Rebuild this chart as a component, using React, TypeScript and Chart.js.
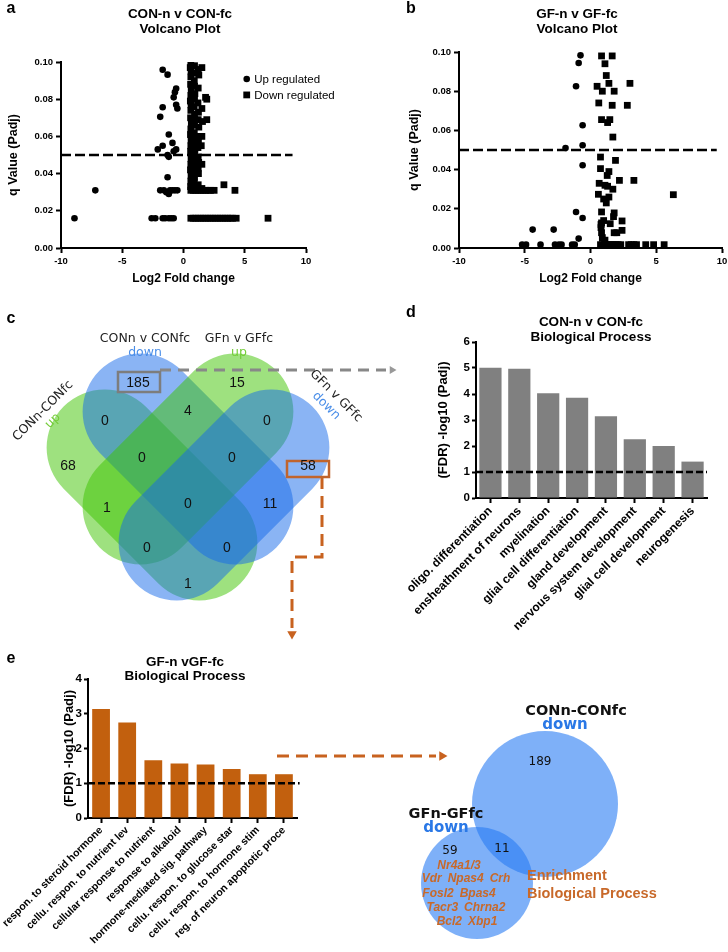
import React, { useEffect, useRef } from 'react';
import { Chart, registerables } from 'chart.js';

Chart.register(...registerables);

const SANS = '"Liberation Sans", Arial, Helvetica, sans-serif';
const VERD = '"DejaVu Sans", Verdana, sans-serif';
Chart.defaults.font.family = SANS;

type Pt = [number, number];

// ---------------- DATA ----------------
// Panel a: CON-n v CON-fc volcano (Log2 fold change, q value)
const conUpRegulated: Pt[] = [
  [-8.9, 0.016], [-7.2, 0.031],
  [-2.6, 0.016], [-2.3, 0.016], [-1.7, 0.016], [-1.5, 0.016], [-1.2, 0.016], [-1.0, 0.016], [-0.8, 0.016],
  [-1.9, 0.031], [-1.6, 0.031], [-1.4, 0.030], [-1.2, 0.029], [-1.1, 0.031], [-0.9, 0.031], [-0.7, 0.031], [-0.5, 0.031],
  [-1.3, 0.038],
  [-2.1, 0.053], [-1.7, 0.055], [-1.3, 0.050], [-1.2, 0.049], [-0.9, 0.0565], [-0.6, 0.053], [-0.8, 0.052], [-1.2, 0.061],
  [-1.9, 0.0705], [-1.7, 0.0757], [-1.7, 0.0958], [-1.3, 0.0932],
  [-0.6, 0.0857], [-0.7, 0.0838], [-0.8, 0.081], [-0.6, 0.077], [-0.5, 0.075],
];
const conDownRegulated: Pt[] = [
  [0.6, 0.099], [0.55, 0.097], [0.62, 0.095], [0.6, 0.092], [0.58, 0.088], [0.63, 0.085], [0.6, 0.082], [0.56, 0.079],
  [0.62, 0.077], [0.6, 0.074], [0.58, 0.070], [0.64, 0.067], [0.6, 0.064], [0.57, 0.061], [0.62, 0.058], [0.6, 0.055],
  [0.58, 0.052], [0.62, 0.048], [0.6, 0.045], [0.57, 0.042], [0.62, 0.039], [0.6, 0.036], [0.58, 0.033],
  [0.9, 0.098], [0.92, 0.094], [0.88, 0.090], [0.9, 0.087], [0.93, 0.083], [0.9, 0.080], [0.87, 0.076], [0.9, 0.072],
  [0.92, 0.069], [0.9, 0.066], [0.88, 0.062], [0.91, 0.059], [0.9, 0.056], [0.93, 0.053], [0.9, 0.050], [0.88, 0.047],
  [0.9, 0.044], [0.92, 0.041], [0.9, 0.038], [0.88, 0.035], [0.9, 0.032],
  [1.2, 0.096], [1.25, 0.093], [1.2, 0.086], [1.18, 0.078], [1.22, 0.073], [1.2, 0.069], [1.25, 0.065], [1.2, 0.060],
  [1.22, 0.057], [1.18, 0.054], [1.2, 0.049], [1.24, 0.046], [1.2, 0.043], [1.22, 0.040], [1.2, 0.034],
  [1.5, 0.097], [1.5, 0.075], [1.55, 0.068], [1.5, 0.060], [1.45, 0.055], [1.5, 0.045],
  [1.9, 0.080], [1.8, 0.081], [1.9, 0.069],
  [0.6, 0.031], [0.8, 0.031], [1.0, 0.031], [1.2, 0.031], [1.4, 0.031], [1.6, 0.031], [1.8, 0.031], [2.0, 0.031],
  [2.2, 0.031], [2.5, 0.031], [0.7, 0.033], [1.1, 0.033], [1.5, 0.032], [3.3, 0.034], [4.2, 0.031],
  [0.6, 0.016], [0.8, 0.016], [1.0, 0.016], [1.2, 0.016], [1.4, 0.016], [1.6, 0.016], [1.8, 0.016], [2.0, 0.016],
  [2.2, 0.016], [2.4, 0.016], [2.6, 0.016], [2.8, 0.016], [3.0, 0.016], [3.2, 0.016], [3.4, 0.016], [3.6, 0.016],
  [3.8, 0.016], [4.0, 0.016], [4.3, 0.016], [6.9, 0.016],
];

// Panel b: GF-n v GF-fc volcano
const gfUpRegulated: Pt[] = [
  [-0.76, 0.0983], [-0.9, 0.0944], [-1.1, 0.0825], [-0.6, 0.0626], [-0.6, 0.0524], [-1.9, 0.051], [-0.6, 0.0422],
  [-1.1, 0.0184], [-0.6, 0.0153], [-0.9, 0.0048], [-4.4, 0.0094], [-2.8, 0.0094],
  [-5.2, 0.0017], [-4.9, 0.0017], [-3.8, 0.0017], [-2.7, 0.0017], [-2.4, 0.0017], [-2.2, 0.0017], [-1.4, 0.0017], [-1.2, 0.0017],
];
const gfDownRegulated: Pt[] = [
  [0.84, 0.098], [1.65, 0.098], [1.1, 0.094], [1.2, 0.088], [0.5, 0.0825], [1.4, 0.084], [3.0, 0.084], [0.9, 0.080],
  [1.8, 0.080], [0.63, 0.074], [1.65, 0.0728], [2.8, 0.0728], [0.84, 0.0655], [1.47, 0.0655], [1.3, 0.064], [1.7, 0.0566],
  [0.76, 0.0464], [1.9, 0.0447], [0.76, 0.0405], [1.27, 0.037], [1.4, 0.039], [2.2, 0.0345], [3.3, 0.0345], [0.66, 0.033],
  [1.1, 0.032], [1.3, 0.0315], [1.7, 0.030], [6.3, 0.0272], [0.6, 0.0274], [1.0, 0.025], [1.4, 0.026], [1.2, 0.023],
  [0.84, 0.0184], [1.8, 0.0179], [1.75, 0.016], [0.84, 0.0128], [1.5, 0.0124], [2.4, 0.0138], [1.0, 0.014], [0.8, 0.0104],
  [2.4, 0.009], [1.8, 0.0078], [2.0, 0.0078], [0.84, 0.0078], [0.9, 0.0053], [1.1, 0.004], [0.8, 0.012],
  [0.76, 0.0017], [0.9, 0.0017], [1.05, 0.0017], [1.2, 0.0017], [1.35, 0.0017], [1.5, 0.0017], [1.65, 0.0017], [1.8, 0.0017],
  [1.95, 0.0017], [2.1, 0.0017], [2.3, 0.0017], [2.9, 0.0017], [3.1, 0.0017], [3.3, 0.0017], [3.5, 0.0017], [4.2, 0.0017],
  [4.8, 0.0017], [5.6, 0.0017],
];
const qThreshold = 0.05;

// Panel d
const conBpLabels = [
  'oligo. differentiation', 'ensheathment of neurons', 'myelination', 'glial cell differentiation',
  'gland development', 'nervous system development', 'glial cell development', 'neurogenesis',
];
const conBpValues = [5.01, 4.97, 4.03, 3.86, 3.14, 2.26, 2.0, 1.4];

// Panel e
const gfBpLabels = [
  'respon. to steroid hormone', 'cellu. respon. to nutrient lev', 'cellular response to nutrient', 'response to alkaloid',
  'hormone-mediated sig. pathway', 'cellu. respon. to glucose star', 'cellu. respon. to hormone stim', 'reg. of neuron apoptotic proce',
];
const gfBpValues = [3.14, 2.75, 1.66, 1.57, 1.54, 1.41, 1.26, 1.26];
const fdrThreshold = 1;

// Panel c: 4-set Venn
const venn4Sets = ['CONn-CONfc', 'CONn v CONfc', 'GFn v GFfc', 'GFn v GFfc'];
const venn4Dirs = ['up', 'down', 'up', 'down'];
const venn4Regions = ['A', 'B', 'C', 'D', 'AB', 'BC', 'CD', 'ABC', 'BCD', 'AC', 'ABCD', 'BD', 'ACD', 'ABD', 'AD'];
const venn4Counts = [68, 185, 15, 58, 0, 4, 0, 0, 0, 1, 0, 11, 0, 0, 1];

// Bottom-right 2-set Venn
const venn2Sets = ['CONn-CONfc', 'GFn-GFfc'];
const venn2Dirs = ['down', 'down'];
const venn2Counts = [189, 59, 11]; // CON only, GF only, both
const venn2Genes = ['Nr4a1/3', 'Vdr  Npas4  Crh', 'Fosl2  Bpas4', 'Tacr3  Chrna2', 'Bcl2  Xbp1'];
const enrichmentNote = ['Enrichment', 'Biological Process'];

// ---------------- LAYOUT / STYLE ----------------
const GREEN = 'rgba(62,196,0,0.5)';
const BLUE = 'rgba(22,105,233,0.5)';
const V4_SHAPES = [
  { cx: 152, cy: 495, rot: 45, fill: GREEN },
  { cx: 188, cy: 459, rot: 45, fill: BLUE },
  { cx: 188, cy: 459, rot: -45, fill: GREEN },
  { cx: 224, cy: 495, rot: -45, fill: BLUE },
];
const V4_HALF = 125;
const V4_R = 58;
const V4_POS: Record<string, [number, number]> = {
  A: [68, 466], B: [138, 383], C: [237, 383], D: [308, 466], AB: [105, 421], BC: [188, 411], CD: [267, 421],
  ABC: [142, 458], BCD: [232, 458], AC: [107, 508], ABCD: [188, 504], BD: [270, 504], ACD: [147, 548], ABD: [227, 548], AD: [188, 584],
};
const V4_SET_POS = [
  { x: 43, y: 411, rot: -45 }, { x: 145, y: 339, rot: 0 }, { x: 239, y: 339, rot: 0 }, { x: 336, y: 396, rot: 45 },
];
const V2_CIRCLES = [{ x: 545, y: 804, r: 73 }, { x: 477, y: 883, r: 56 }];
const V2_SET_POS = [{ x: 576, y: 711 }, { x: 446, y: 814 }];
const V2_COUNT_POS = [[540, 762], [450, 851], [502, 849]];
const V2_GENE_POS = [[459, 866], [466, 879], [459, 894], [466, 908], [467, 922]];

// ---------------- PLUGINS ----------------
const thresholdPlugin = {
  id: 'threshold',
  afterDatasetsDraw(chart: any, _a: any, opts: any) {
    if (!opts || opts.value === undefined) return;
    const { ctx, chartArea } = chart;
    const xs = chart.scales.x;
    const ys = chart.scales.y;
    const y = ys.getPixelForValue(opts.value);
    const x1 = opts.from !== undefined ? xs.getPixelForValue(opts.from) : chartArea.left;
    const x2 = opts.to !== undefined ? xs.getPixelForValue(opts.to) : chartArea.right;
    ctx.save();
    ctx.beginPath();
    ctx.setLineDash(opts.dash || [8, 4]);
    ctx.lineWidth = opts.width || 2;
    ctx.strokeStyle = opts.color || '#000';
    ctx.moveTo(x1, y);
    ctx.lineTo(x2, y);
    ctx.stroke();
    ctx.restore();
  },
};

const insideLegendPlugin = {
  id: 'insideLegend',
  afterDraw(chart: any, _a: any, opts: any) {
    if (!opts || !opts.display) return;
    const { ctx } = chart;
    const x0 = chart.scales.x.getPixelForValue(opts.x);
    let y = chart.scales.y.getPixelForValue(opts.y);
    ctx.save();
    ctx.font = `${opts.fontSize}px ${SANS}`;
    ctx.textBaseline = 'middle';
    ctx.textAlign = 'left';
    ctx.fillStyle = '#000';
    chart.data.datasets.forEach((ds: any) => {
      const r = ds.pointRadius;
      ctx.beginPath();
      if (ds.pointStyle === 'rect') {
        const s = r * Math.SQRT1_2;
        ctx.rect(x0 - s, y - s, 2 * s, 2 * s);
      } else {
        ctx.arc(x0, y, r, 0, Math.PI * 2);
      }
      ctx.fill();
      ctx.fillText(ds.label, x0 + opts.gap, y + 0.5);
      y += opts.lineGap;
    });
    ctx.restore();
  },
};

function drawText(ctx: CanvasRenderingContext2D, text: string, x: number, y: number, font: string, color: string, align: CanvasTextAlign = 'center', rot = 0) {
  ctx.save();
  ctx.translate(x, y);
  if (rot) ctx.rotate((rot * Math.PI) / 180);
  ctx.font = font;
  ctx.fillStyle = color;
  ctx.textAlign = align;
  ctx.textBaseline = 'middle';
  ctx.fillText(text, 0, 0);
  ctx.restore();
}

const diagramPlugin = {
  id: 'diagram',
  beforeDatasetsDraw(chart: any) {
    const { ctx } = chart;
    const xs = chart.scales.x;
    const ys = chart.scales.y;
    const k = xs.getPixelForValue(1) - xs.getPixelForValue(0);
    V4_SHAPES.forEach((s) => {
      ctx.save();
      ctx.translate(xs.getPixelForValue(s.cx), ys.getPixelForValue(s.cy));
      ctx.rotate((s.rot * Math.PI) / 180);
      const h = (V4_HALF - V4_R) * k;
      const r = V4_R * k;
      ctx.beginPath();
      ctx.moveTo(-h, -r);
      ctx.lineTo(h, -r);
      ctx.arc(h, 0, r, -Math.PI / 2, Math.PI / 2);
      ctx.lineTo(-h, r);
      ctx.arc(-h, 0, r, Math.PI / 2, Math.PI * 1.5);
      ctx.closePath();
      ctx.fillStyle = s.fill;
      ctx.fill();
      ctx.restore();
    });
  },
  afterDatasetsDraw(chart: any) {
    const { ctx } = chart;
    const xs = chart.scales.x;
    const ys = chart.scales.y;
    const px = (v: number) => xs.getPixelForValue(v);
    const py = (v: number) => ys.getPixelForValue(v);

    // highlight boxes
    ctx.save();
    ctx.lineWidth = 2.5;
    ctx.strokeStyle = '#7d7d7d';
    ctx.strokeRect(px(118), py(372), px(160) - px(118), py(392) - py(372));
    ctx.strokeStyle = '#c0642c';
    ctx.strokeRect(px(287), py(461), px(329) - px(287), py(477) - py(461));
    ctx.restore();

    // 4-set venn counts
    venn4Regions.forEach((id, i) => {
      const [x, y] = V4_POS[id];
      drawText(ctx, String(venn4Counts[i]), px(x), py(y), `14px ${SANS}`, '#111');
    });
    // 4-set venn set labels
    venn4Sets.forEach((name, i) => {
      const p = V4_SET_POS[i];
      const dirColor = venn4Dirs[i] === 'up' ? '#74cc38' : '#4a8ee8';
      ctx.save();
      ctx.translate(px(p.x), py(p.y));
      ctx.rotate((p.rot * Math.PI) / 180);
      drawText(ctx, name, 0, 0, `12.5px ${VERD}`, '#222');
      drawText(ctx, venn4Dirs[i], 0, 14, `12.5px ${VERD}`, dirColor);
      ctx.restore();
    });

    // 2-set venn labels
    venn2Sets.forEach((name, i) => {
      const p = V2_SET_POS[i];
      drawText(ctx, name, px(p.x), py(p.y), `bold 14.5px ${VERD}`, '#111');
      drawText(ctx, venn2Dirs[i], px(p.x - (i === 0 ? 11 : 0)), py(p.y + 14), `bold 15px ${VERD}`, '#2a78e6');
    });
    venn2Counts.forEach((c, i) => {
      const [x, y] = V2_COUNT_POS[i];
      drawText(ctx, String(c), px(x), py(y), `12px ${VERD}`, '#111');
    });
    venn2Genes.forEach((g, i) => {
      const [x, y] = V2_GENE_POS[i];
      drawText(ctx, g.replace(/  /g, '\u2002'), px(x), py(y), `italic bold 12px ${SANS}`, '#c8692a');
    });
    enrichmentNote.forEach((t, i) => {
      drawText(ctx, t, px(527), py(876 + i * 18), `bold 14.5px ${SANS}`, '#c8692a', 'left');
    });
  },
};

// ---------------- CONFIGS ----------------
const axisBorder = { display: true, color: '#000', width: 2 };
const axisGrid = { display: true, drawOnChartArea: false, drawTicks: true, tickLength: 5, tickWidth: 2, tickColor: '#000', color: '#000', offset: false };

function volcanoConfig(up: Pt[], down: Pt[], p: any): any {
  return {
    type: 'scatter',
    data: {
      datasets: [
        { label: 'Up regulated', data: up.map(([x, y]) => ({ x, y })), pointStyle: 'circle', pointRadius: 3.3, backgroundColor: '#000', borderColor: '#000', borderWidth: 0 },
        { label: 'Down regulated', data: down.map(([x, y]) => ({ x, y })), pointStyle: 'rect', pointRadius: 4.8, backgroundColor: '#000', borderColor: '#000', borderWidth: 0 },
      ],
    },
    options: {
      animation: false,
      responsive: false,
      events: [],
      layout: { padding: { left: p.padL, right: p.padR, top: p.padT, bottom: p.padB }, autoPadding: false },
      plugins: {
        legend: { display: false },
        tooltip: { enabled: false },
        threshold: { value: qThreshold, from: -10, to: p.lineTo, dash: [10, 4], width: 2.5 },
        insideLegend: p.legend,
      },
      scales: {
        x: {
          min: -10, max: 10,
          border: axisBorder, grid: axisGrid,
          ticks: { stepSize: 5, color: '#000', padding: 3, font: { family: SANS, size: 9.5, weight: 'bold' } },
          title: { display: true, text: 'Log2 Fold change', color: '#000', font: { family: SANS, size: 12, weight: 'bold' }, padding: { top: 0, bottom: 2 } },
          afterFit: (s: any) => { s.height = p.xH; s.paddingLeft = 0; s.paddingRight = 0; },
        },
        y: {
          min: 0, max: 0.1,
          border: axisBorder, grid: axisGrid,
          ticks: { stepSize: 0.02, color: '#000', padding: 3, font: { family: SANS, size: 9.5, weight: 'bold' }, callback: (v: any) => Number(v).toFixed(2) },
          title: { display: true, text: 'q Value (Padj)', color: '#000', font: { family: SANS, size: 12.5, weight: 'bold' }, padding: { top: p.yTitlePad, bottom: 0 } },
          afterFit: (s: any) => { s.width = p.yW; },
        },
      },
    },
    plugins: [thresholdPlugin, insideLegendPlugin],
  };
}

function barConfig(labels: string[], values: number[], color: string, p: any): any {
  return {
    type: 'bar',
    data: {
      labels,
      datasets: [{ label: '(FDR) -log10 (Padj)', data: values, backgroundColor: color, borderWidth: 0, categoryPercentage: 1, barPercentage: p.barPct }],
    },
    options: {
      animation: false,
      responsive: false,
      events: [],
      layout: { padding: { left: p.padL, right: p.padR, top: p.padT, bottom: 0 }, autoPadding: false },
      plugins: {
        legend: { display: false },
        tooltip: { enabled: false },
        threshold: { value: fdrThreshold, from: -0.5, to: p.lineTo, dash: [7, 3], width: 2.5 },
      },
      scales: {
        x: {
          border: axisBorder, grid: axisGrid,
          ticks: { color: '#000', autoSkip: false, minRotation: 45, maxRotation: 45, padding: 1, font: { family: SANS, size: p.labelSize, weight: 'bold' } },
          afterFit: (s: any) => { s.height = p.xH; s.paddingLeft = 0; s.paddingRight = 0; },
        },
        y: {
          min: 0, max: p.yMax,
          border: axisBorder, grid: { ...axisGrid, tickLength: 4 },
          ticks: { stepSize: 1, color: '#000', padding: 2, font: { family: SANS, size: 11.5, weight: 'bold' } },
          title: { display: true, text: '(FDR) -log10 (Padj)', color: '#000', font: { family: SANS, size: 13, weight: 'bold' }, padding: { top: p.yTitlePad, bottom: 0 } },
          afterFit: (s: any) => { s.width = p.yW; },
        },
      },
    },
    plugins: [thresholdPlugin],
  };
}

function overlayConfig(): any {
  const blue2 = 'rgba(40,123,243,0.6)';
  return {
    type: 'scatter',
    data: {
      datasets: [
        { type: 'bubble', label: `${venn2Sets[0]} ${venn2Dirs[0]}`, data: [V2_CIRCLES[0]], backgroundColor: blue2, borderWidth: 0 },
        { type: 'bubble', label: `${venn2Sets[1]} ${venn2Dirs[1]}`, data: [V2_CIRCLES[1]], backgroundColor: blue2, borderWidth: 0 },
        { label: 'link to d', data: [{ x: 160, y: 370 }, { x: 386, y: 370 }], showLine: true, borderColor: '#888', borderWidth: 3, borderDash: [11, 7], pointRadius: 0 },
        { label: 'arrow d', data: [{ x: 392, y: 370 }], pointStyle: 'triangle', pointRotation: 90, pointRadius: 4.5, backgroundColor: '#999', borderWidth: 0 },
        { label: 'link to e', data: [{ x: 322, y: 477 }, { x: 322, y: 557 }, { x: 292, y: 557 }, { x: 292, y: 628 }], showLine: true, borderColor: '#c8621f', borderWidth: 3, borderDash: [12, 7], pointRadius: 0 },
        { label: 'arrow e', data: [{ x: 292, y: 634 }], pointStyle: 'triangle', pointRotation: 180, pointRadius: 5.5, backgroundColor: '#c8621f', borderWidth: 0 },
        { label: 'link to venn', data: [{ x: 277, y: 756 }, { x: 436, y: 756 }], showLine: true, borderColor: '#c8621f', borderWidth: 3, borderDash: [12, 7], pointRadius: 0 },
        { label: 'arrow venn', data: [{ x: 442, y: 756 }], pointStyle: 'triangle', pointRotation: 90, pointRadius: 5.5, backgroundColor: '#c8621f', borderWidth: 0 },
      ],
    },
    options: {
      animation: false,
      responsive: false,
      events: [],
      layout: { padding: 0, autoPadding: false },
      plugins: { legend: { display: false }, tooltip: { enabled: false } },
      scales: {
        x: { type: 'linear', min: 0, max: 728, display: false },
        y: { type: 'linear', min: 0, max: 952, reverse: true, display: false },
      },
    },
    plugins: [diagramPlugin],
  };
}

const VOLCANO_A = { padL: 0, yW: 61, padR: 58, padT: 62, padB: 12, xH: 40, yTitlePad: 6, lineTo: 8.9, legend: { display: true, x: 5.16, y: 0.0909, gap: 7.5, lineGap: 16, fontSize: 11.5 } };
const VOLCANO_B = { padL: 34, yW: 61, padR: 6, padT: 52, padB: 12, xH: 40, yTitlePad: 8.8, lineTo: 9.6, legend: { display: false } };
const BAR_D = { padL: 66, yW: 46, padR: 21, padT: 37, xH: 137, yTitlePad: 6, barPct: 0.77, yMax: 6, lineTo: 7.5, labelSize: 12 };
const BAR_E = { padL: 58, yW: 30, padR: 67, padT: 39, xH: 134, yTitlePad: 4, barPct: 0.68, yMax: 4, lineTo: 7.6, labelSize: 10.5 };

// ---------------- COMPONENTS ----------------
function ChartBox({ left, top, width, height, make }: { left: number; top: number; width: number; height: number; make: () => any }) {
  const ref = useRef<HTMLCanvasElement>(null);
  useEffect(() => {
    const chart = new Chart(ref.current as HTMLCanvasElement, make());
    return () => chart.destroy();
  }, []);
  return <canvas ref={ref} width={width} height={height} style={{ position: 'absolute', left, top, width, height }} />;
}

function Txt({ x, y, children, size = 13.5, weight = 'bold' as any }: { x: number; y: number; children: React.ReactNode; size?: number; weight?: any }) {
  return (
    <div style={{ position: 'absolute', left: x, top: y, transform: 'translate(-50%, -50%)', whiteSpace: 'nowrap', fontFamily: SANS, fontSize: size, fontWeight: weight, lineHeight: 1, color: '#000' }}>
      {children}
    </div>
  );
}

export default function App() {
  return (
    <div style={{ position: 'absolute', left: 0, top: 0, width: 728, height: 952, background: '#fff', overflow: 'hidden' }}>
      <ChartBox left={0} top={0} width={364} height={300} make={() => volcanoConfig(conUpRegulated, conDownRegulated, VOLCANO_A)} />
      <ChartBox left={364} top={0} width={364} height={300} make={() => volcanoConfig(gfUpRegulated, gfDownRegulated, VOLCANO_B)} />
      <ChartBox left={364} top={305} width={364} height={330} make={() => barConfig(conBpLabels, conBpValues, '#808080', BAR_D)} />
      <ChartBox left={0} top={640} width={364} height={312} make={() => barConfig(gfBpLabels, gfBpValues, '#c2600e', BAR_E)} />
      <ChartBox left={0} top={0} width={728} height={952} make={overlayConfig} />

      <Txt x={11} y={8} size={16}>a</Txt>
      <Txt x={411} y={8} size={16}>b</Txt>
      <Txt x={11} y={318} size={16}>c</Txt>
      <Txt x={411} y={312} size={16}>d</Txt>
      <Txt x={11} y={658} size={16}>e</Txt>

      <Txt x={180} y={14}>CON-n v CON-fc</Txt>
      <Txt x={180} y={29}>Volcano Plot</Txt>
      <Txt x={577} y={14}>GF-n v GF-fc</Txt>
      <Txt x={577} y={29}>Volcano Plot</Txt>
      <Txt x={591} y={322}>CON-n v CON-fc</Txt>
      <Txt x={591} y={337}>Biological Process</Txt>
      <Txt x={185} y={662}>GF-n vGF-fc</Txt>
      <Txt x={185} y={676}>Biological Process</Txt>
    </div>
  );
}
